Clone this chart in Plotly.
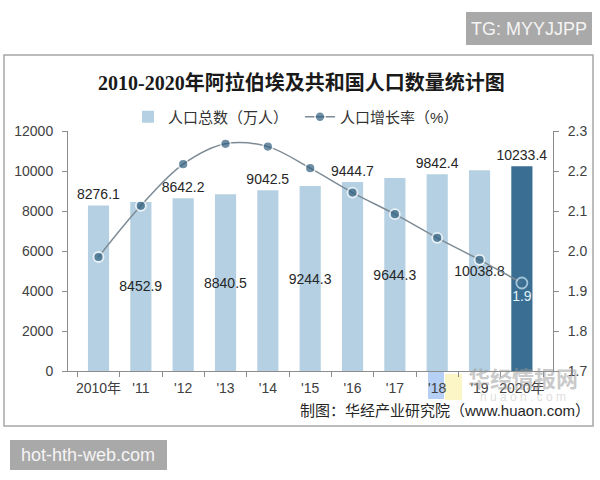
import plotly.graph_objects as go

# ---------------- data ----------------
years = ["2010年", "'11", "'12", "'13", "'14", "'15", "'16", "'17", "'18", "'19", "2020年"]
population = [8276.1, 8452.9, 8642.2, 8840.5, 9042.5, 9244.3, 9444.7, 9644.3, 9842.4, 10038.8, 10233.4]
growth = [1.985, 2.113, 2.217, 2.268, 2.261, 2.207, 2.146, 2.092, 2.033, 1.978, 1.92]

title_text = "2010-2020年阿拉伯埃及共和国人口数量统计图"
bar_name = "人口总数（万人）"
line_name = "人口增长率（%）"
source_text = "制图：华经产业研究院（www.huaon.com）"

# ---------------- styling ----------------
W, H = 600, 480
L, R, T, B = 68, 553, 131, 371  # plot area in pixels

def px(x):
    return (x - L) / (R - L)

def py(y):
    return (B - y) / (B - T)

FONT = "Liberation Sans, Arial, Noto Sans CJK SC, sans-serif"
light = "#b4d0e2"
dark = "#3a6e92"
n = len(years)
bar_colors = [light] * (n - 1) + [dark]
bar_text = [f"{v:.1f}" for v in population]
bar_pos = ["outside" if i % 2 == 0 else "inside" for i in range(n)]

line_text = ["" for _ in range(n - 1)] + [f"{growth[-1]:.1f}"]
mk_fill = ["#2f5e7e"] * (n - 1) + [dark]
mk_line = ["#ffffff"] * (n - 1) + ["#cfeaf7"]
mk_size = [10] * (n - 1) + [11]

fig = go.Figure()
fig.add_trace(go.Bar(
    x=years, y=population, name=bar_name,
    marker=dict(color=bar_colors, line=dict(width=0)),
    width=0.5,
    text=bar_text, textposition=bar_pos, insidetextanchor="middle", textangle=0,
    constraintext="none", cliponaxis=False,
    textfont=dict(size=14, color="#262626", family=FONT),
    hoverinfo="skip",
))
fig.add_trace(go.Scatter(
    x=years, y=growth, name=line_name, yaxis="y2",
    mode="lines+markers+text",
    line=dict(color="#7d8b95", width=1.5, shape="spline", smoothing=1),
    marker=dict(color=mk_fill, size=mk_size, line=dict(color=mk_line, width=1.8)),
    text=line_text, textposition="bottom center",
    textfont=dict(size=14, color="#e2f2fb", family=FONT),
    cliponaxis=False, hoverinfo="skip",
))

axis_color = "#8c8c8c"
tick_font = dict(size=14, color="#404040", family=FONT)

fig.update_layout(
    width=W, height=H, autosize=False,
    margin=dict(l=L, r=W - R, t=T, b=H - B, pad=0),
    paper_bgcolor="white", plot_bgcolor="white",
    font=dict(family=FONT, color="#333333"),
    showlegend=True,
    legend=dict(orientation="h", x=px(128), y=py(117), xanchor="left", yanchor="middle",
                font=dict(size=15, color="#333333", family=FONT),
                bgcolor="rgba(0,0,0,0)", itemwidth=30, traceorder="normal",
                entrywidth=127, entrywidthmode="pixels"),
    xaxis=dict(type="category", showline=True, linecolor=axis_color, linewidth=1,
               ticks="outside", tickson="boundaries", ticklen=5, tickcolor=axis_color,
               tickfont=tick_font, tickangle=0, showgrid=False, zeroline=False,
               ticklabelstandoff=4),
    yaxis=dict(range=[0, 12000], dtick=2000, tickformat="d", showline=True, linecolor=axis_color,
               ticks="outside", ticklen=5, tickcolor=axis_color, tickfont=tick_font,
               showgrid=False, zeroline=False, ticklabelstandoff=6),
    yaxis2=dict(range=[1.7, 2.3], dtick=0.1, tickformat=".1f", overlaying="y", side="right",
                showline=True, linecolor=axis_color, ticks="outside", ticklen=5,
                tickcolor=axis_color, tickfont=tick_font, showgrid=False, zeroline=False,
                ticklabelstandoff=6),
)

shapes = [
    # chart frame
    dict(type="rect", xref="paper", yref="paper", x0=px(4), x1=px(593), y0=py(426), y1=py(55),
         line=dict(color="#a6a6a6", width=1.5), fillcolor="rgba(0,0,0,0)", layer="below"),
    # watermark logo blocks
    dict(type="rect", xref="paper", yref="paper", x0=px(428), x1=px(444), y0=py(399), y1=py(370),
         line=dict(width=0), fillcolor="rgba(120,170,235,0.55)", layer="below"),
    dict(type="rect", xref="paper", yref="paper", x0=px(445), x1=px(462), y0=py(400), y1=py(374),
         line=dict(width=0), fillcolor="rgba(250,236,150,0.55)", layer="below"),
    # grey tag boxes
    dict(type="rect", xref="paper", yref="paper", x0=px(466), x1=px(592), y0=py(45), y1=py(12),
         line=dict(width=0), fillcolor="#a9a9a9"),
    dict(type="rect", xref="paper", yref="paper", x0=px(10), x1=px(167), y0=py(470), y1=py(440),
         line=dict(width=0), fillcolor="#a9a9a9"),
]
fig.update_layout(shapes=shapes)

ann = [
    dict(text=f"<b>{title_text}</b>", x=px(301), y=py(82), xref="paper", yref="paper",
         showarrow=False, xanchor="center", yanchor="middle",
         font=dict(size=20, color="#1a1a1a", family="Liberation Serif, Noto Sans CJK SC, serif")),
    dict(text=source_text, x=px(592), y=py(410), xref="paper", yref="paper",
         showarrow=False, xanchor="right", yanchor="middle",
         font=dict(size=15, color="#262626", family=FONT)),
    dict(text="<b>华经情报网</b>", x=px(523), y=py(379), xref="paper", yref="paper",
         showarrow=False, xanchor="center", yanchor="middle",
         font=dict(size=22, color="rgba(150,150,150,0.5)", family=FONT)),
    dict(text="h u a o n . c o m", x=px(523), y=py(397), xref="paper", yref="paper",
         showarrow=False, xanchor="center", yanchor="middle",
         font=dict(size=12, color="rgba(170,170,170,0.4)", family=FONT)),
    dict(text="TG: MYYJJPP", x=px(529), y=py(29), xref="paper", yref="paper",
         showarrow=False, xanchor="center", yanchor="middle",
         font=dict(size=18, color="#f4f4f4", family=FONT)),
    dict(text="hot-hth-web.com", x=px(88), y=py(455), xref="paper", yref="paper",
         showarrow=False, xanchor="center", yanchor="middle",
         font=dict(size=18, color="#f4f4f4", family=FONT)),
]
fig.update_layout(annotations=ann)

fig.write_html("out.html")
